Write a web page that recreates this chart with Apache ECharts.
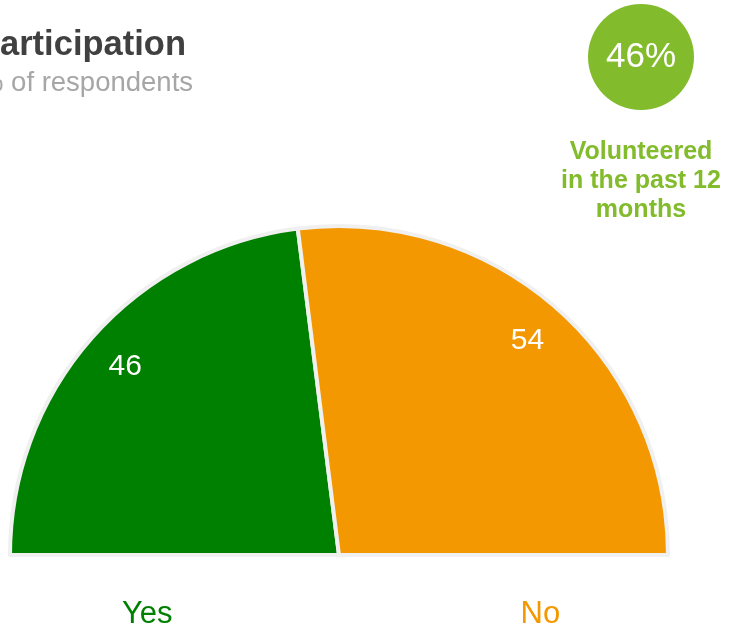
<!DOCTYPE html>
<html>
<head>
<meta charset="utf-8">
<script src="https://cdn.jsdelivr.net/npm/echarts@6/dist/echarts.min.js"></script>
<style>
html,body{margin:0;padding:0;background:#fff;}
#chart{width:731px;height:630px;}
</style>
</head>
<body>
<div id="chart"></div>
<script>
const categories = ['Yes', 'No'];
const values = [46, 54];
const sliceColors = ['#008000', '#f39800'];
const titleText = 'Participation';
const subtitleText = '% of respondents';
const highlightValue = '46%';
const highlightCaption = 'Volunteered\nin the past 12\nmonths';

const chart = echarts.init(document.getElementById('chart'), null, {renderer: 'canvas'});
const pieData = categories.map((c, i) => ({name: c, value: values[i], itemStyle: {color: sliceColors[i]}}));
const FONT = 'Liberation Sans, Arial, sans-serif';

chart.setOption({
  animation: false,
  backgroundColor: '#ffffff',
  legend: {
    data: categories.map((c, i) => ({name: c, textStyle: {color: sliceColors[i]}})),
    left: 111,
    top: 594,
    icon: 'circle',
    itemWidth: 0,
    itemHeight: 0,
    itemGap: 342,
    selectedMode: false,
    textStyle: {fontFamily: FONT, fontSize: 31}
  },
  graphic: [
    {type: 'text', x: -23, y: 45, style: {text: titleText, fill: '#404040', font: 'bold 34.5px ' + FONT, textAlign: 'left', textVerticalAlign: 'middle'}, silent: true},
    {type: 'text', x: -21, y: 83, style: {text: subtitleText, fill: '#a6a6a6', font: '27.5px ' + FONT, textAlign: 'left', textVerticalAlign: 'middle'}, silent: true},
    {type: 'circle', shape: {cx: 641, cy: 57, r: 53}, style: {fill: '#82bb2b'}, silent: true},
    {type: 'text', x: 641, y: 57, style: {text: highlightValue, fill: '#ffffff', font: '35px ' + FONT, textAlign: 'center', textVerticalAlign: 'middle'}, silent: true},
    {type: 'text', x: 641, y: 138, style: {text: highlightCaption, fill: '#82bb2b', font: 'bold 25px ' + FONT, textAlign: 'center', lineHeight: 29}, silent: true}
  ],
  series: [
    {
      type: 'pie',
      center: [339, 555],
      radius: [0, 329],
      startAngle: 180,
      endAngle: 0,
      silent: true,
      label: {show: false},
      labelLine: {show: false},
      itemStyle: {borderColor: '#f0f0f0', borderWidth: 4},
      data: pieData
    },
    {
      type: 'pie',
      center: [339, 555],
      radius: [235, 329],
      startAngle: 180,
      endAngle: 0,
      silent: true,
      label: {show: true, position: 'inside', color: '#ffffff', fontFamily: FONT, fontSize: 30, formatter: '{c}'},
      labelLine: {show: false},
      itemStyle: {color: 'rgba(0,0,0,0)', borderWidth: 0},
      data: categories.map((c, i) => ({name: c, value: values[i]}))
    }
  ]
});
</script>
</body>
</html>
